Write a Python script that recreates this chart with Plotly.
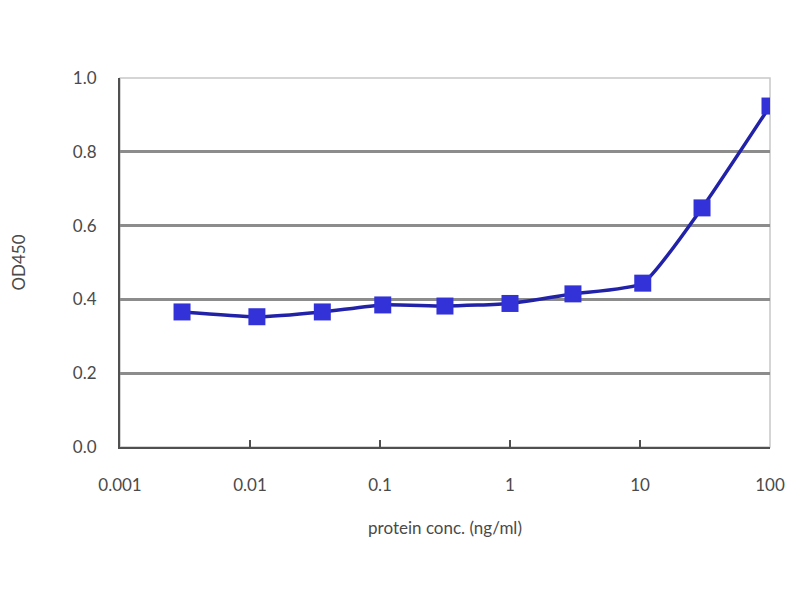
import plotly.graph_objects as go

conc = [0.003, 0.0113, 0.036, 0.105, 0.316, 1, 3.05, 10.5, 30, 100]
od450 = [0.366, 0.353, 0.366, 0.385, 0.382, 0.389, 0.415, 0.444, 0.648, 0.924]

y_ticks = [0.0, 0.2, 0.4, 0.6, 0.8, 1.0]
y_labels = ["0.0", "0.2", "0.4", "0.6", "0.8", "1.0"]
grid_vals = [0.2, 0.4, 0.6, 0.8]
x_ticks = [0.001, 0.01, 0.1, 1, 10, 100]
x_labels = ["0.001", "0.01", "0.1", "1", "10", "100"]

fig = go.Figure()
fig.add_trace(go.Scatter(
    x=conc, y=od450, mode="lines+markers",
    line=dict(color="#2222a8", width=3.5, shape="spline", smoothing=0.5),
    marker=dict(symbol="square", size=17, color="#3232d8"),
    showlegend=False,
))
fig.add_trace(go.Scatter(x=[conc[0]], y=[od450[0]], yaxis="y2", mode="markers",
                         marker=dict(opacity=0), showlegend=False, hoverinfo="skip"))

font = dict(family="Lato, Open Sans, sans-serif", size=17, color="#4a4a4a")

fig.update_layout(
    width=800, height=600,
    margin=dict(l=112, r=38, t=70, b=161),
    paper_bgcolor="white", plot_bgcolor="white",
    font=font,
    xaxis=dict(type="log", range=[-3, 2], tickvals=x_ticks, ticktext=x_labels,
               showgrid=False, showline=True, linecolor="#505050", linewidth=2,
               ticks="inside", ticklen=7, tickwidth=2, tickcolor="#505050",
               zeroline=False, ticklabelstandoff=22, automargin=False,
               title=dict(text="protein conc. (ng/ml)", font=font, standoff=28)),
    yaxis=dict(range=[0, 1], tickvals=y_ticks, ticktext=y_labels,
               showgrid=False, showline=True, linecolor="#505050", linewidth=2,
               ticks="", zeroline=False, ticklabelstandoff=18, automargin=False,
               title=dict(text="OD450", font=font, standoff=46)),
    yaxis2=dict(range=[0, 1], overlaying="y", tickvals=grid_vals, showticklabels=False,
                showgrid=True, gridcolor="#8c8c8c", gridwidth=3, zeroline=False,
                showline=False, layer="below traces"),
    shapes=[dict(type="rect", xref="paper", yref="paper", x0=0, x1=1, y0=0, y1=1,
                 line=dict(color="#c8c8c8", width=1.5), layer="below")],
)

fig.write_html("out.html")
